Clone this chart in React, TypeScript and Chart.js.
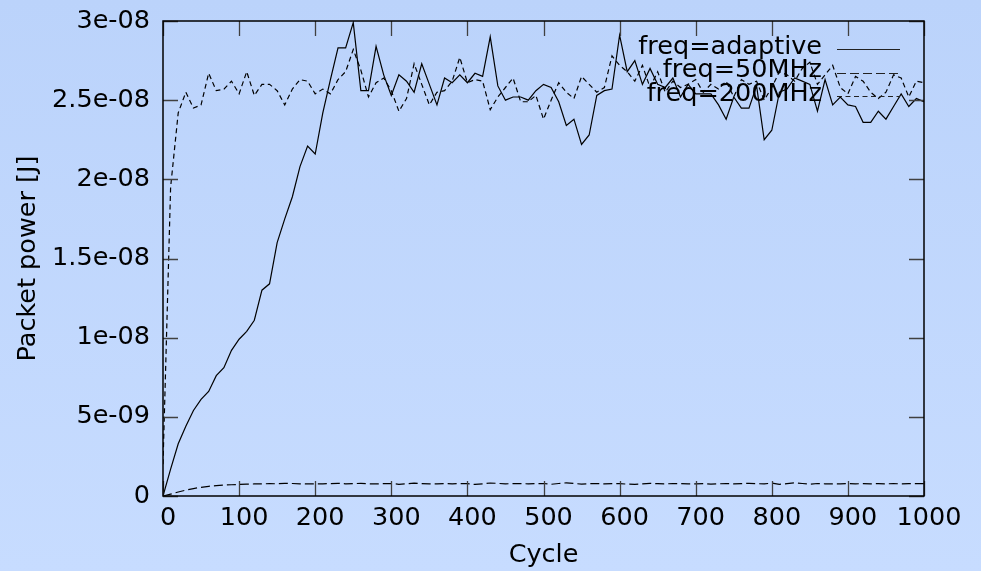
import React, { useEffect, useRef } from "react";
import { Chart, registerables } from "chart.js";

Chart.register(...registerables);

const CYCLES = [
  0, 10, 20, 30, 40, 50, 60, 70, 80, 90,
  100, 110, 120, 130, 140, 150, 160, 170, 180, 190,
  200, 210, 220, 230, 240, 250, 260, 270, 280, 290,
  300, 310, 320, 330, 340, 350, 360, 370, 380, 390,
  400, 410, 420, 430, 440, 450, 460, 470, 480, 490,
  500, 510, 520, 530, 540, 550, 560, 570, 580, 590,
  600, 610, 620, 630, 640, 650, 660, 670, 680, 690,
  700, 710, 720, 730, 740, 750, 760, 770, 780, 790,
  800, 810, 820, 830, 840, 850, 860, 870, 880, 890,
  900, 910, 920, 930, 940, 950, 960, 970, 980, 990,
  1000,
];

// Packet power in J
const ADAPTIVE = [
  0.0, 0.17e-8, 0.33e-8, 0.44e-8, 0.54e-8, 0.61e-8, 0.66e-8, 0.76e-8, 0.81e-8, 0.92e-8,
  0.99e-8, 1.04e-8, 1.11e-8, 1.30e-8, 1.34e-8, 1.60e-8, 1.75e-8, 1.89e-8, 2.08e-8, 2.21e-8,
  2.16e-8, 2.42e-8, 2.63e-8, 2.83e-8, 2.83e-8, 2.99e-8, 2.56e-8, 2.56e-8, 2.84e-8, 2.66e-8,
  2.53e-8, 2.66e-8, 2.62e-8, 2.55e-8, 2.73e-8, 2.60e-8, 2.47e-8, 2.64e-8, 2.61e-8, 2.66e-8,
  2.61e-8, 2.67e-8, 2.65e-8, 2.90e-8, 2.59e-8, 2.50e-8, 2.52e-8, 2.52e-8, 2.50e-8, 2.56e-8,
  2.60e-8, 2.58e-8, 2.49e-8, 2.34e-8, 2.38e-8, 2.22e-8, 2.28e-8, 2.53e-8, 2.56e-8, 2.57e-8,
  2.91e-8, 2.68e-8, 2.75e-8, 2.60e-8, 2.70e-8, 2.60e-8, 2.58e-8, 2.64e-8, 2.52e-8, 2.60e-8,
  2.54e-8, 2.54e-8, 2.54e-8, 2.47e-8, 2.38e-8, 2.52e-8, 2.45e-8, 2.45e-8, 2.59e-8, 2.25e-8,
  2.31e-8, 2.55e-8, 2.57e-8, 2.64e-8, 2.62e-8, 2.60e-8, 2.43e-8, 2.63e-8, 2.47e-8, 2.52e-8,
  2.47e-8, 2.46e-8, 2.36e-8, 2.36e-8, 2.43e-8, 2.38e-8, 2.46e-8, 2.54e-8, 2.46e-8, 2.51e-8,
  2.49e-8,
];

const FREQ_50 = [
  0.0, 0.012e-8, 0.025e-8, 0.037e-8, 0.047e-8, 0.055e-8, 0.061e-8, 0.066e-8, 0.069e-8, 0.071e-8,
  0.073e-8, 0.075e-8, 0.076e-8, 0.077e-8, 0.078e-8, 0.077e-8, 0.080e-8, 0.079e-8, 0.077e-8, 0.076e-8,
  0.076e-8, 0.077e-8, 0.078e-8, 0.080e-8, 0.077e-8, 0.078e-8, 0.080e-8, 0.077e-8, 0.076e-8, 0.078e-8,
  0.079e-8, 0.074e-8, 0.077e-8, 0.081e-8, 0.078e-8, 0.076e-8, 0.077e-8, 0.078e-8, 0.077e-8, 0.078e-8,
  0.078e-8, 0.073e-8, 0.077e-8, 0.082e-8, 0.080e-8, 0.076e-8, 0.079e-8, 0.078e-8, 0.077e-8, 0.078e-8,
  0.079e-8, 0.074e-8, 0.079e-8, 0.083e-8, 0.079e-8, 0.075e-8, 0.078e-8, 0.079e-8, 0.076e-8, 0.078e-8,
  0.078e-8, 0.075e-8, 0.073e-8, 0.077e-8, 0.080e-8, 0.078e-8, 0.077e-8, 0.078e-8, 0.079e-8, 0.076e-8,
  0.077e-8, 0.078e-8, 0.075e-8, 0.077e-8, 0.078e-8, 0.077e-8, 0.078e-8, 0.080e-8, 0.078e-8, 0.076e-8,
  0.082e-8, 0.074e-8, 0.078e-8, 0.083e-8, 0.079e-8, 0.075e-8, 0.079e-8, 0.077e-8, 0.076e-8, 0.077e-8,
  0.078e-8, 0.077e-8, 0.078e-8, 0.077e-8, 0.078e-8, 0.077e-8, 0.078e-8, 0.077e-8, 0.078e-8, 0.078e-8,
  0.078e-8,
];

const FREQ_200 = [
  0.20e-8, 1.95e-8, 2.42e-8, 2.55e-8, 2.45e-8, 2.47e-8, 2.67e-8, 2.56e-8, 2.57e-8, 2.62e-8,
  2.54e-8, 2.68e-8, 2.53e-8, 2.60e-8, 2.60e-8, 2.56e-8, 2.47e-8, 2.57e-8, 2.63e-8, 2.62e-8,
  2.54e-8, 2.57e-8, 2.54e-8, 2.63e-8, 2.68e-8, 2.82e-8, 2.69e-8, 2.52e-8, 2.61e-8, 2.64e-8,
  2.56e-8, 2.43e-8, 2.51e-8, 2.73e-8, 2.60e-8, 2.47e-8, 2.55e-8, 2.56e-8, 2.62e-8, 2.77e-8,
  2.61e-8, 2.63e-8, 2.62e-8, 2.44e-8, 2.52e-8, 2.58e-8, 2.64e-8, 2.49e-8, 2.49e-8, 2.53e-8,
  2.38e-8, 2.50e-8, 2.61e-8, 2.55e-8, 2.51e-8, 2.65e-8, 2.60e-8, 2.55e-8, 2.58e-8, 2.78e-8,
  2.72e-8, 2.68e-8, 2.62e-8, 2.72e-8, 2.58e-8, 2.68e-8, 2.55e-8, 2.62e-8, 2.58e-8, 2.60e-8,
  2.63e-8, 2.55e-8, 2.60e-8, 2.57e-8, 2.62e-8, 2.52e-8, 2.63e-8, 2.60e-8, 2.62e-8, 2.50e-8,
  2.58e-8, 2.68e-8, 2.66e-8, 2.62e-8, 2.70e-8, 2.74e-8, 2.60e-8, 2.66e-8, 2.72e-8, 2.58e-8,
  2.54e-8, 2.65e-8, 2.62e-8, 2.55e-8, 2.51e-8, 2.55e-8, 2.66e-8, 2.64e-8, 2.52e-8, 2.62e-8,
  2.61e-8,
];

const SERIES_LABELS = ["freq=adaptive", "freq=50MHz", "freq=200MHz"];
const SERIES_DASHES: number[][] = [[], [9, 4], [5, 3.5]];

const X_TICKS = [0, 100, 200, 300, 400, 500, 600, 700, 800, 900, 1000];
const Y_TICKS = [0, 5e-9, 1e-8, 1.5e-8, 2e-8, 2.5e-8, 3e-8];
const Y_TICK_LABELS = ["0", "5e-09", "1e-08", "1.5e-08", "2e-08", "2.5e-08", "3e-08"];

const X_TITLE = "Cycle";
const Y_TITLE = "Packet power [J]";

const FONT = "'DejaVu Sans', sans-serif";
const FONT_SIZE = 25.5;

const framePlugin = {
  id: "gnuplotFrame",
  afterDatasetsDraw(chart: any) {
    const { ctx, chartArea } = chart;
    const { left, right, top, bottom } = chartArea;
    const xs = chart.scales.x;
    const ys = chart.scales.y;
    const tl = 15;
    ctx.save();
    // ticks (mirrored, inward)
    ctx.strokeStyle = "#404040";
    ctx.lineWidth = 1.3;
    ctx.setLineDash([]);
    ctx.beginPath();
    X_TICKS.forEach((v) => {
      const px = Math.round(xs.getPixelForValue(v)) + 0.5;
      ctx.moveTo(px, bottom);
      ctx.lineTo(px, bottom - tl);
      ctx.moveTo(px, top);
      ctx.lineTo(px, top + tl);
    });
    Y_TICKS.forEach((v) => {
      const py = Math.round(ys.getPixelForValue(v)) + 0.5;
      ctx.moveTo(left, py);
      ctx.lineTo(left + tl, py);
      ctx.moveTo(right, py);
      ctx.lineTo(right - tl, py);
    });
    ctx.stroke();
    // border
    ctx.strokeStyle = "#000";
    ctx.lineWidth = 1.5;
    ctx.strokeRect(Math.round(left), Math.round(top), Math.round(right - left), Math.round(bottom - top));

    // key (gnuplot style, top right)
    ctx.font = `${FONT_SIZE}px ${FONT}`;
    ctx.textAlign = "right";
    ctx.textBaseline = "alphabetic";
    const textRight = right - 102;
    const sampleL = right - 87;
    const sampleR = right - 24;
    SERIES_LABELS.forEach((lab, i) => {
      const y = top + 28.3 + i * 23.4;
      ctx.fillStyle = "#000";
      ctx.fillText(lab, textRight, y + 4.5);
      ctx.strokeStyle = "#222";
      ctx.lineWidth = 1.2;
      ctx.setLineDash(SERIES_DASHES[i]);
      ctx.beginPath();
      ctx.moveTo(sampleL, Math.round(y) + 0.5);
      ctx.lineTo(sampleR, Math.round(y) + 0.5);
      ctx.stroke();
    });
    ctx.restore();
  },
};

export default function App() {
  const canvasRef = useRef<HTMLCanvasElement | null>(null);

  useEffect(() => {
    document.body.style.margin = "0";
    const canvas = canvasRef.current;
    if (!canvas) return;

    const series = [ADAPTIVE, FREQ_50, FREQ_200];
    const datasets = series.map((vals, i) => ({
      label: SERIES_LABELS[i],
      data: CYCLES.map((c, j) => ({ x: c, y: vals[j] })),
      borderColor: "#000",
      borderWidth: 1.2,
      borderDash: SERIES_DASHES[i],
      pointRadius: 0,
      tension: 0,
      fill: false,
    }));

    const chart = new Chart(canvas, {
      type: "line",
      data: { datasets },
      options: {
        animation: false,
        responsive: false,
        maintainAspectRatio: false,
        events: [],
        layout: { padding: { top: 21, right: 57, left: 0, bottom: 0 } },
        plugins: {
          legend: { display: false },
          tooltip: { enabled: false },
        },
        scales: {
          x: {
            type: "linear",
            min: 0,
            max: 1000,
            afterBuildTicks: (s: any) => {
              s.ticks = X_TICKS.map((value) => ({ value }));
            },
            afterFit: (s: any) => {
              s.height = 75;
              s.paddingLeft = 0;
              s.paddingRight = 0;
            },
            grid: { display: false, drawTicks: false },
            border: { display: false },
            ticks: {
              color: "#000",
              font: { family: FONT, size: FONT_SIZE },
              padding: 7,
              labelOffset: 5,
              maxRotation: 0,
              autoSkip: false,
              callback: (v: any) => String(v),
            },
            title: {
              display: true,
              text: X_TITLE,
              color: "#000",
              font: { family: FONT, size: FONT_SIZE, lineHeight: 1.2 },
              padding: { top: 0, bottom: 0 },
            },
          },
          y: {
            type: "linear",
            min: 0,
            max: 3e-8,
            afterBuildTicks: (s: any) => {
              s.ticks = Y_TICKS.map((value) => ({ value }));
            },
            afterFit: (s: any) => {
              s.width = 163;
              s.paddingTop = 0;
              s.paddingBottom = 0;
            },
            grid: { display: false, drawTicks: false },
            border: { display: false },
            ticks: {
              color: "#000",
              font: { family: FONT, size: FONT_SIZE },
              padding: 13,
              autoSkip: false,
              callback: (_v: any, i: number) => Y_TICK_LABELS[i],
            },
            title: {
              display: true,
              text: Y_TITLE,
              color: "#000",
              font: { family: FONT, size: FONT_SIZE, lineHeight: 1.2 },
              padding: { top: 13, bottom: 0 },
            },
          },
        },
      },
      plugins: [framePlugin],
    } as any);

    return () => chart.destroy();
  }, []);

  return (
    <div
      style={{
        width: 981,
        height: 571,
        position: "relative",
        background: "linear-gradient(to bottom, #bbd3fb, #c7dcff)",
      }}
    >
      <canvas ref={canvasRef} width={981} height={571} style={{ display: "block" }} />
    </div>
  );
}
